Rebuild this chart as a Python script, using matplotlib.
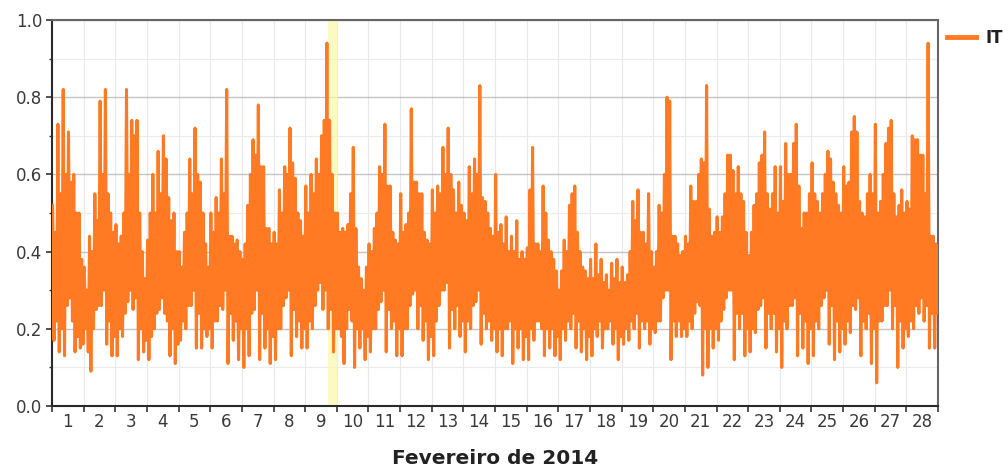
import numpy as np
import matplotlib
matplotlib.use("Agg")
import matplotlib.pyplot as plt
from matplotlib.ticker import FixedLocator, MultipleLocator
from matplotlib.lines import Line2D

# Fevereiro de 2014, one row per day, hourly readings (peak/trough pairs)
days = list(range(1, 29))
it_hourly = [
    [0.52, 0.17, 0.45, 0.22, 0.73, 0.14, 0.55, 0.20, 0.82, 0.13, 0.60, 0.26, 0.71, 0.28, 0.58, 0.22, 0.60, 0.14, 0.50, 0.18, 0.50, 0.15, 0.38, 0.16],
    [0.36, 0.20, 0.30, 0.14, 0.44, 0.09, 0.40, 0.20, 0.55, 0.25, 0.48, 0.26, 0.79, 0.26, 0.60, 0.30, 0.82, 0.16, 0.55, 0.22, 0.50, 0.13, 0.45, 0.18],
    [0.47, 0.13, 0.42, 0.20, 0.44, 0.18, 0.50, 0.24, 0.82, 0.27, 0.60, 0.30, 0.74, 0.25, 0.70, 0.28, 0.74, 0.12, 0.50, 0.20, 0.40, 0.14, 0.33, 0.17],
    [0.43, 0.12, 0.50, 0.18, 0.60, 0.20, 0.50, 0.24, 0.66, 0.25, 0.55, 0.28, 0.70, 0.24, 0.64, 0.22, 0.54, 0.13, 0.48, 0.20, 0.50, 0.11, 0.40, 0.16],
    [0.40, 0.17, 0.36, 0.22, 0.45, 0.20, 0.50, 0.26, 0.64, 0.26, 0.55, 0.30, 0.72, 0.15, 0.60, 0.24, 0.58, 0.15, 0.50, 0.20, 0.42, 0.18, 0.36, 0.20],
    [0.50, 0.15, 0.45, 0.22, 0.54, 0.22, 0.50, 0.26, 0.64, 0.25, 0.55, 0.30, 0.82, 0.11, 0.44, 0.24, 0.44, 0.17, 0.42, 0.22, 0.43, 0.12, 0.40, 0.20],
    [0.38, 0.10, 0.42, 0.20, 0.52, 0.13, 0.60, 0.24, 0.69, 0.25, 0.65, 0.30, 0.78, 0.12, 0.62, 0.24, 0.62, 0.15, 0.46, 0.20, 0.46, 0.11, 0.42, 0.18],
    [0.45, 0.12, 0.42, 0.20, 0.56, 0.20, 0.50, 0.26, 0.62, 0.28, 0.60, 0.30, 0.72, 0.13, 0.63, 0.25, 0.59, 0.18, 0.50, 0.22, 0.48, 0.15, 0.44, 0.20],
    [0.57, 0.15, 0.50, 0.22, 0.60, 0.20, 0.55, 0.26, 0.64, 0.30, 0.60, 0.32, 0.70, 0.25, 0.74, 0.30, 0.94, 0.20, 0.74, 0.25, 0.60, 0.14, 0.50, 0.20],
    [0.50, 0.20, 0.45, 0.18, 0.46, 0.11, 0.45, 0.20, 0.47, 0.25, 0.55, 0.22, 0.67, 0.10, 0.46, 0.20, 0.36, 0.15, 0.33, 0.20, 0.30, 0.12, 0.36, 0.18],
    [0.42, 0.14, 0.40, 0.20, 0.46, 0.20, 0.50, 0.25, 0.62, 0.27, 0.60, 0.30, 0.73, 0.14, 0.57, 0.25, 0.57, 0.20, 0.45, 0.22, 0.43, 0.13, 0.42, 0.20],
    [0.55, 0.13, 0.45, 0.20, 0.47, 0.20, 0.50, 0.26, 0.77, 0.29, 0.58, 0.30, 0.58, 0.20, 0.55, 0.26, 0.55, 0.17, 0.45, 0.22, 0.43, 0.12, 0.42, 0.18],
    [0.56, 0.13, 0.50, 0.22, 0.57, 0.26, 0.55, 0.30, 0.67, 0.30, 0.60, 0.32, 0.72, 0.15, 0.60, 0.25, 0.56, 0.20, 0.50, 0.26, 0.58, 0.18, 0.52, 0.22],
    [0.50, 0.14, 0.48, 0.22, 0.62, 0.20, 0.55, 0.26, 0.64, 0.27, 0.60, 0.30, 0.83, 0.16, 0.54, 0.24, 0.53, 0.20, 0.50, 0.22, 0.46, 0.17, 0.44, 0.20],
    [0.60, 0.14, 0.45, 0.20, 0.47, 0.13, 0.42, 0.20, 0.49, 0.20, 0.40, 0.22, 0.44, 0.11, 0.40, 0.20, 0.48, 0.15, 0.38, 0.20, 0.40, 0.12, 0.38, 0.18],
    [0.41, 0.12, 0.56, 0.20, 0.67, 0.17, 0.42, 0.22, 0.42, 0.22, 0.40, 0.20, 0.57, 0.13, 0.50, 0.20, 0.43, 0.15, 0.40, 0.20, 0.38, 0.13, 0.35, 0.18],
    [0.30, 0.12, 0.35, 0.20, 0.43, 0.17, 0.40, 0.22, 0.52, 0.20, 0.55, 0.24, 0.57, 0.15, 0.45, 0.22, 0.40, 0.14, 0.36, 0.20, 0.35, 0.12, 0.33, 0.18],
    [0.38, 0.13, 0.33, 0.20, 0.42, 0.18, 0.34, 0.22, 0.38, 0.15, 0.32, 0.20, 0.34, 0.20, 0.30, 0.22, 0.37, 0.16, 0.33, 0.20, 0.38, 0.12, 0.32, 0.18],
    [0.36, 0.16, 0.32, 0.20, 0.34, 0.17, 0.40, 0.22, 0.53, 0.20, 0.48, 0.24, 0.56, 0.15, 0.45, 0.22, 0.45, 0.20, 0.42, 0.22, 0.55, 0.16, 0.40, 0.20],
    [0.36, 0.19, 0.40, 0.22, 0.52, 0.22, 0.50, 0.28, 0.60, 0.30, 0.80, 0.30, 0.79, 0.12, 0.44, 0.22, 0.44, 0.18, 0.42, 0.22, 0.39, 0.18, 0.40, 0.20],
    [0.44, 0.18, 0.42, 0.22, 0.57, 0.20, 0.53, 0.24, 0.53, 0.27, 0.60, 0.26, 0.64, 0.08, 0.63, 0.20, 0.83, 0.10, 0.51, 0.20, 0.44, 0.15, 0.45, 0.20],
    [0.49, 0.17, 0.45, 0.22, 0.49, 0.25, 0.55, 0.28, 0.65, 0.30, 0.65, 0.30, 0.61, 0.12, 0.55, 0.24, 0.62, 0.20, 0.55, 0.24, 0.53, 0.13, 0.45, 0.20],
    [0.39, 0.14, 0.45, 0.20, 0.52, 0.19, 0.55, 0.25, 0.63, 0.26, 0.65, 0.28, 0.71, 0.15, 0.55, 0.24, 0.51, 0.20, 0.55, 0.24, 0.62, 0.14, 0.50, 0.20],
    [0.62, 0.10, 0.53, 0.22, 0.68, 0.20, 0.60, 0.26, 0.60, 0.26, 0.68, 0.28, 0.73, 0.13, 0.57, 0.24, 0.46, 0.15, 0.50, 0.22, 0.50, 0.11, 0.55, 0.20],
    [0.63, 0.13, 0.55, 0.22, 0.53, 0.20, 0.50, 0.26, 0.55, 0.28, 0.60, 0.30, 0.66, 0.16, 0.64, 0.26, 0.58, 0.12, 0.55, 0.22, 0.52, 0.14, 0.50, 0.20],
    [0.62, 0.16, 0.57, 0.22, 0.58, 0.19, 0.71, 0.26, 0.75, 0.25, 0.71, 0.28, 0.53, 0.13, 0.50, 0.22, 0.49, 0.20, 0.55, 0.24, 0.60, 0.11, 0.55, 0.20],
    [0.73, 0.06, 0.50, 0.22, 0.53, 0.22, 0.60, 0.26, 0.68, 0.26, 0.72, 0.30, 0.74, 0.20, 0.55, 0.26, 0.49, 0.10, 0.52, 0.22, 0.56, 0.15, 0.50, 0.20],
    [0.53, 0.18, 0.51, 0.22, 0.70, 0.20, 0.69, 0.26, 0.69, 0.24, 0.65, 0.28, 0.65, 0.22, 0.55, 0.26, 0.94, 0.15, 0.44, 0.24, 0.44, 0.15, 0.42, 0.24],
]
highlight_span = (8.72, 9.04)  # yellow marker, in days

it_values = [v for row in it_hourly for v in row]
n_per_day = 24
t = (np.arange(len(it_values)) + 0.5) / n_per_day

fig = plt.figure(figsize=(10.08, 4.71), dpi=100)
ax = fig.add_axes([52 / 1008, 65 / 471, 886 / 1008, 386 / 471])

ax.axvspan(*highlight_span, color="#fbf8a8", alpha=0.7, lw=0, zorder=1)
ax.plot(t, it_values, color="#ff7a22", lw=2.2, zorder=3)

ax.set_xlim(0, 28)
ax.set_ylim(0, 1.0)

# x: ticks at day boundaries, labels at day centres
ax.xaxis.set_major_locator(FixedLocator(np.arange(0, 29)))
ax.xaxis.set_minor_locator(FixedLocator(np.arange(28) + 0.5))
ax.xaxis.set_minor_formatter(plt.FixedFormatter([str(d) for d in days]))
ax.tick_params(axis="x", which="major", length=4, width=1.2, labelbottom=False,
               color="#333333")
ax.tick_params(axis="x", which="minor", length=0, labelsize=12, pad=5,
               labelcolor="#3a3a3a")

ax.yaxis.set_major_locator(MultipleLocator(0.2))
ax.yaxis.set_minor_locator(MultipleLocator(0.1))
ax.yaxis.set_major_formatter(plt.FormatStrFormatter("%.1f"))
ax.tick_params(axis="y", which="major", length=4, width=1.2, labelsize=12,
               labelcolor="#3a3a3a", color="#333333", pad=3)
ax.tick_params(axis="y", which="minor", length=2, width=1.0, color="#333333")

ax.grid(axis="y", which="major", color="#c4c4c4", lw=1.0, zorder=0)
ax.grid(axis="y", which="minor", color="#ececec", lw=0.8, zorder=0)
ax.grid(axis="x", which="major", color="#e8e8e8", lw=0.8, zorder=0)
ax.set_axisbelow(True)

for side in ["left", "bottom"]:
    ax.spines[side].set_color("#2a2a2a")
    ax.spines[side].set_linewidth(1.5)
for side in ["top", "right"]:
    ax.spines[side].set_color("#666666")
    ax.spines[side].set_linewidth(1.5)

ax.set_xlabel("Fevereiro de 2014", fontsize=14.5, fontweight="bold",
              color="#222222", labelpad=13)

handle = Line2D([], [], color="#ff7a22", lw=3.5)
fig.legend([handle], ["IT"], loc="upper left", bbox_to_anchor=(934 / 1008, 1 - 16 / 471),
           frameon=False, handlelength=1.7, handletextpad=0.6, borderpad=0.3,
           prop={"size": 12, "weight": "bold"}, labelcolor="#222222")

fig.savefig("out.png", dpi=100, facecolor="white")
